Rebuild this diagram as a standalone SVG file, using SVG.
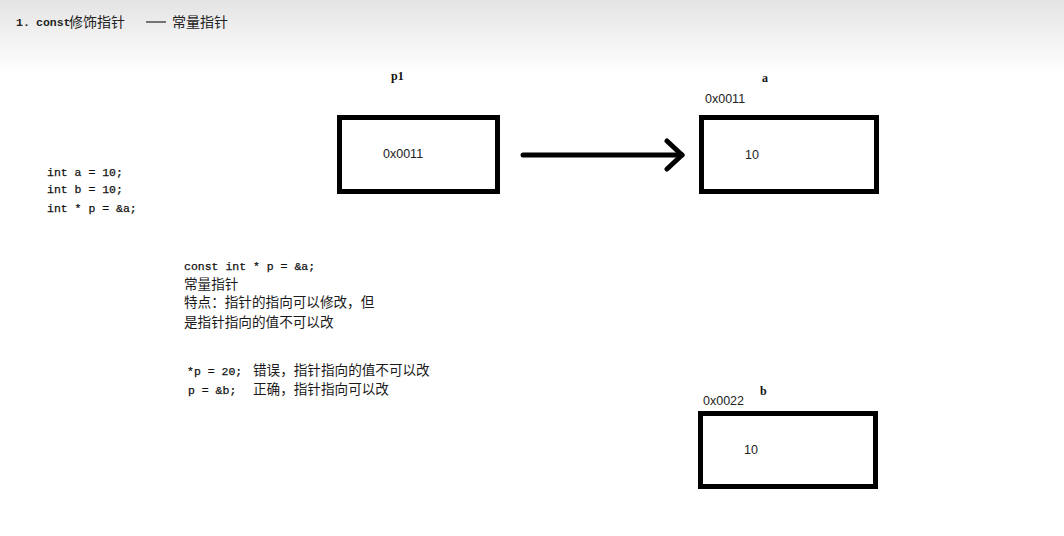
<svg xmlns="http://www.w3.org/2000/svg" width="1064" height="536" viewBox="0 0 1064 536">
  <defs>
    <linearGradient id="topfade" x1="0" y1="0" x2="0" y2="1">
      <stop offset="0" stop-color="#e4e4e4"/>
      <stop offset="1" stop-color="#ffffff"/>
    </linearGradient>
    <marker id="chev" markerUnits="userSpaceOnUse" markerWidth="24" markerHeight="34" refX="18" refY="17" orient="auto" viewBox="0 0 24 34">
      <polyline points="3,3 18,17 3,31" fill="none" stroke="#000" stroke-width="5" stroke-linecap="round" stroke-linejoin="round"/>
    </marker>
    <style>
      .box { fill: #fff; stroke: #000; stroke-width: 5; }
      .mono { font-family: "Liberation Mono", "Noto Sans CJK SC", monospace; font-size: 11.5px; fill: #111; stroke: #111; stroke-width: 0.25px; }
      .cjk { font-family: "Noto Sans CJK SC", "Liberation Sans", sans-serif; font-size: 13.6px; fill: #1a1a1a; }
      .val { font-family: "Liberation Sans", sans-serif; font-size: 12.5px; fill: #222; }
      .lab { font-family: "Liberation Serif", serif; font-size: 12px; fill: #111; font-weight: bold; }
      .title { font-family: "Liberation Mono", "Noto Sans CJK SC", monospace; font-size: 11.5px; fill: #222; font-weight: bold; }
      .titlecjk { font-family: "Noto Sans CJK SC", sans-serif; font-size: 14px; fill: #222; }
    </style>
  </defs>

  <rect x="0" y="0" width="1064" height="536" fill="#fff"/>
  <rect x="0" y="0" width="1064" height="74" fill="url(#topfade)"/>

  <g id="title">
    <text class="title" x="16" y="26" font-weight="normal">1.</text>
    <text class="title" x="36" y="26">const</text>
    <text class="titlecjk" x="69" y="27">修饰指针</text>
    <line x1="146" y1="22" x2="166" y2="22" stroke="#333" stroke-width="1.3"/>
    <text class="titlecjk" x="172" y="27">常量指针</text>
  </g>

  <g id="code-decl">
    <text class="mono" x="47" y="176">int a = 10;</text>
    <text class="mono" x="47" y="193">int b = 10;</text>
    <text class="mono" x="47" y="212">int * p = &amp;a;</text>
  </g>

  <g id="explanation">
    <text class="mono" x="184" y="270">const int * p = &amp;a;</text>
    <text class="cjk" x="184" y="289">常量指针</text>
    <text class="cjk" x="184" y="307">特点：指针的指向可以修改，但</text>
    <text class="cjk" x="184" y="327">是指针指向的值不可以改</text>
  </g>

  <g id="examples">
    <text class="mono" x="187" y="375">*p = 20;</text>
    <text class="cjk" x="253" y="375">错误，指针指向的值不可以改</text>
    <text class="mono" x="188" y="394">p = &amp;b;</text>
    <text class="cjk" x="253" y="394">正确，指针指向可以改</text>
  </g>

  <g id="node-p1">
    <text class="lab" x="391" y="80">p1</text>
    <rect class="box" x="339.5" y="117.5" width="158" height="74"/>
    <text class="val" x="383" y="158">0x0011</text>
  </g>

  <g id="node-a">
    <text class="lab" x="762" y="82">a</text>
    <text class="val" x="705" y="103">0x0011</text>
    <rect class="box" x="701.5" y="117.5" width="175" height="74"/>
    <text class="val" x="745" y="159">10</text>
  </g>

  <g id="node-b">
    <text class="lab" x="760" y="395">b</text>
    <text class="val" x="703" y="405">0x0022</text>
    <rect class="box" x="700.5" y="413.5" width="175" height="73"/>
    <text class="val" x="744" y="454">10</text>
  </g>

  <g id="connectors">
    <line x1="523" y1="155" x2="682" y2="155" stroke="#000" stroke-width="5" stroke-linecap="round" marker-end="url(#chev)"/>
  </g>
</svg>
